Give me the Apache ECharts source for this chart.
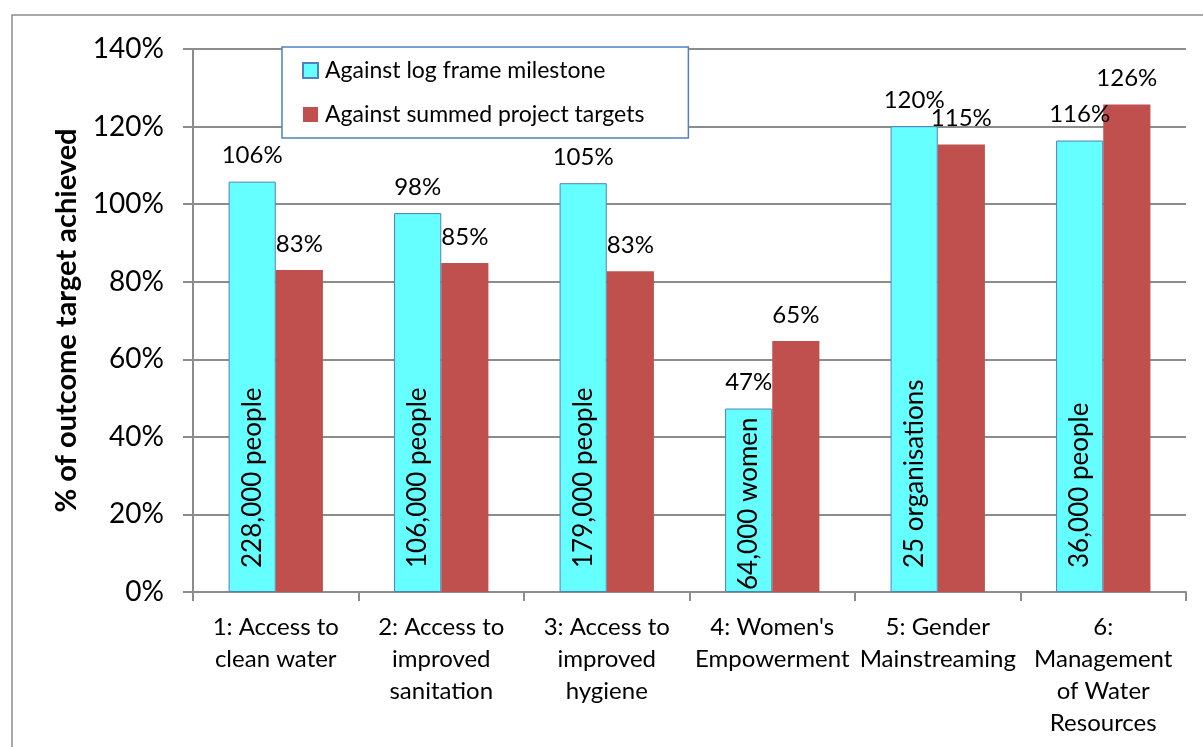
<!DOCTYPE html>
<html>
<head>
<meta charset="utf-8">
<script src="https://cdn.jsdelivr.net/npm/echarts@6/dist/echarts.min.js"></script>
<style>
  html, body { margin: 0; padding: 0; background: #fff; }
  #chart { width: 1203px; height: 747px; }
</style>
</head>
<body>
<div id="chart"></div>
<script>
// categories, values (percent of target)
const categories = [
  '1: Access to\nclean water',
  '2: Access to\nimproved\nsanitation',
  '3: Access to\nimproved\nhygiene',
  "4: Women's\nEmpowerment",
  '5: Gender\nMainstreaming',
  '6:\nManagement\nof Water\nResources'
];
const logframeVals = [105.8, 97.7, 105.4, 47.3, 120.1, 116.4];
const summedVals   = [83.0, 84.8, 82.7, 64.7, 115.4, 125.7];
const reachLabels  = ['228,000 people', '106,000 people', '179,000 people', '64,000 women', '25 organisations', '36,000 people'];
const yTicks = [0, 20, 40, 60, 80, 100, 120, 140];

const FONT = 'Lato, "Open Sans", sans-serif';
const CYAN = '#66FFFF';
const RED  = '#C0504D';
const GREY = '#8c8c8c';

const chart = echarts.init(document.getElementById('chart'), null, { renderer: 'canvas' });

const pct = function (p) { return Math.round(p.value) + '%'; };
const barGapOpts = { barGap: '0%', barCategoryGap: '43%' };

chart.setOption({
  backgroundColor: '#fff',
  animation: false,
  textStyle: { fontFamily: FONT, color: '#000' },
  graphic: [{
    type: 'rect', silent: true, z: 100,
    shape: { x: 12, y: 15, width: 1260, height: 800 },
    style: { fill: 'none', stroke: GREY, lineWidth: 1.5 }
  }],
  grid: { left: 193, right: 17, top: 49, bottom: 155, containLabel: false },
  legend: {
    data: ['Against log frame milestone', 'Against summed project targets'],
    orient: 'vertical',
    left: 282, top: 47,
    padding: [12, 44, 12, 20],
    itemWidth: 15, itemHeight: 15, itemGap: 21,
    icon: 'rect',
    backgroundColor: '#fff',
    borderColor: '#4F81BD', borderWidth: 1.5,
    textStyle: { fontFamily: FONT, fontSize: 23, color: '#000', padding: [0, 0, 0, 2] }
  },
  xAxis: [{
    type: 'category',
    data: categories,
    axisLine: { lineStyle: { color: GREY, width: 2 } },
    axisTick: { show: true, length: 9, lineStyle: { color: GREY, width: 2 } },
    axisLabel: { interval: 0, fontFamily: FONT, fontSize: 24, lineHeight: 32, color: '#000', margin: 19 }
  }, {
    type: 'category', data: categories, show: false
  }],
  yAxis: {
    type: 'value',
    min: yTicks[0], max: yTicks[yTicks.length - 1], interval: 20,
    name: '% of outcome target achieved',
    nameLocation: 'middle', nameGap: 112, nameRotate: 90,
    nameTextStyle: { fontFamily: FONT, fontSize: 29, fontWeight: 'bold', color: '#000' },
    axisLine: { show: true, lineStyle: { color: GREY, width: 2 } },
    axisTick: { show: true, length: 10, lineStyle: { color: GREY, width: 2 } },
    axisLabel: { fontFamily: FONT, fontSize: 28, color: '#000', margin: 29, formatter: '{value}%' },
    splitLine: { lineStyle: { color: GREY, width: 2 } }
  },
  series: [{
    name: 'Against log frame milestone',
    type: 'bar',
    data: logframeVals,
    ...barGapOpts,
    itemStyle: { color: CYAN, borderColor: '#4F81BD', borderWidth: 1 },
    label: { show: true, position: 'top', distance: 14, fontFamily: FONT, fontSize: 24, color: '#000', formatter: pct },
    z: 3
  }, {
    name: 'Against summed project targets',
    type: 'bar',
    data: summedVals,
    ...barGapOpts,
    itemStyle: { color: RED },
    label: { show: true, position: 'top', distance: 14, fontFamily: FONT, fontSize: 24, color: '#000', formatter: pct },
    z: 3
  }, {
    // transparent twin of the cyan bars, only to carry the rotated reach text
    name: 'reach',
    type: 'bar',
    xAxisIndex: 1,
    data: logframeVals.map(function (v, i) {
      return { value: v, label: { distance: i === 3 ? 2 : 24 } };
    }),
    ...barGapOpts,
    itemStyle: { color: 'rgba(0,0,0,0)' },
    label: {
      show: true, position: 'insideBottom', rotate: 90,
      align: 'left', verticalAlign: 'middle',
      fontFamily: FONT, fontSize: 26, color: '#000',
      formatter: function (p) { return reachLabels[p.dataIndex]; }
    },
    silent: true, z: 4
  }, {
    name: 'spacer',
    type: 'bar',
    xAxisIndex: 1,
    data: summedVals.map(function () { return '-'; }),
    ...barGapOpts,
    silent: true
  }]
});
</script>
</body>
</html>
